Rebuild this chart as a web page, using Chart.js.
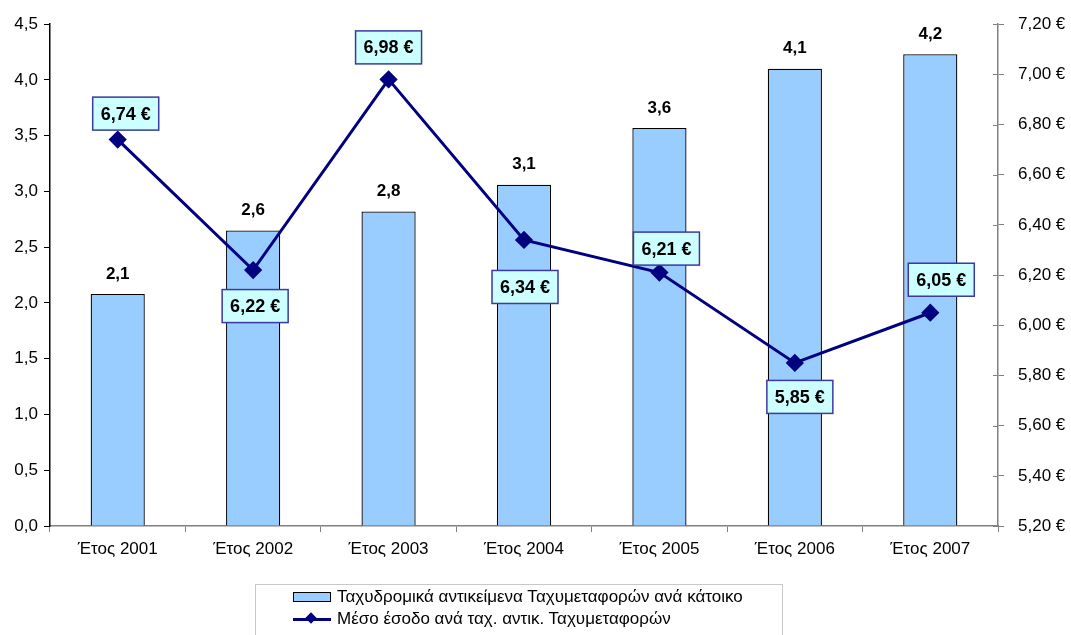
<!DOCTYPE html>
<html>
<head>
<meta charset="utf-8">
<script src="https://cdn.jsdelivr.net/npm/chart.js@4/dist/chart.umd.min.js"></script>
<style>
    html, body { margin: 0; padding: 0; background: #fff; }
    #wrap { position: relative; width: 1071px; height: 635px; overflow: hidden; }
    #legend {
        position: absolute; left: 255px; top: 584px; width: 528px; height: 70px;
        border: 1px solid #c8c8c8; box-sizing: border-box;
        font-family: 'Liberation Sans', Arial, sans-serif; font-size: 17px; color: #000;
    }
    .leg-row { position: absolute; left: 37px; height: 20px; display: flex; align-items: center; white-space: nowrap; }
    .sw-bar { width: 36px; height: 8px; background: #99ccff; border: 1px solid #000; margin-right: 6px; }
    .sw-line { position: relative; width: 38px; height: 3px; background: #000080; margin-right: 6px; }
    .sw-line::after {
        content: ''; position: absolute; left: 14px; top: -4px; width: 8px; height: 8px;
        background: #000080; transform: rotate(45deg);
    }
</style>
</head>
<body>
<div id="wrap">
    <canvas id="chart" width="1071" height="635"></canvas>
    <div id="legend">
        <div class="leg-row" style="top:2px;"><span class="sw-bar"></span>Ταχυδρομικά αντικείμενα Ταχυμεταφορών ανά κάτοικο</div>
        <div class="leg-row" style="top:24px;"><span class="sw-line"></span>Μέσο έσοδο ανά ταχ. αντικ. Ταχυμεταφορών</div>
    </div>
</div>
<script>
    // ── Data ──────────────────────────────────────
    const years = ['Έτος 2001', 'Έτος 2002', 'Έτος 2003', 'Έτος 2004', 'Έτος 2005', 'Έτος 2006', 'Έτος 2007'];
    const itemsPerResident = [2.08, 2.65, 2.82, 3.06, 3.57, 4.10, 4.23];
    const itemsLabels = ['2,1', '2,6', '2,8', '3,1', '3,6', '4,1', '4,2'];
    const avgRevenue = [6.74, 6.22, 6.98, 6.34, 6.21, 5.85, 6.05];

    // label box placement relative to each point (px)
    const labelDx = [8, 2, 0, 1, 7, 5, 11];
    const labelDy = [-26, 36, -32, 47, -24, 34, -33];

    const FONT = "'Liberation Sans', Arial, sans-serif";
    Chart.defaults.font.family = FONT;
    Chart.defaults.color = '#000';

    const fmtLeft = v => Number(v).toFixed(1).replace('.', ',');
    const fmtRight = v => Number(v).toFixed(2).replace('.', ',') + ' €';

    // ── Value labels plugin ───────────────────────
    const valueLabels = {
        id: 'valueLabels',
        afterDatasetsDraw(chart) {
            const ctx = chart.ctx;
            ctx.save();
            ctx.textAlign = 'center';
            ctx.textBaseline = 'middle';

            // bar labels
            ctx.font = 'bold 17px ' + FONT;
            ctx.fillStyle = '#000';
            chart.getDatasetMeta(1).data.forEach((bar, i) => {
                ctx.fillText(itemsLabels[i], bar.x, bar.y - 20);
            });

            // line labels in boxes
            chart.getDatasetMeta(0).data.forEach((pt, i) => {
                const cx = pt.x + labelDx[i];
                const cy = pt.y + labelDy[i];
                const w = 66, h = 33;
                ctx.fillStyle = '#ccffff';
                ctx.fillRect(cx - w / 2, cy - h / 2, w, h);
                ctx.strokeStyle = '#3a3aa0';
                ctx.lineWidth = 1.5;
                ctx.strokeRect(cx - w / 2, cy - h / 2, w, h);
                ctx.fillStyle = '#000';
                ctx.font = 'bold 18px ' + FONT;
                ctx.fillText(fmtRight(avgRevenue[i]), cx, cy + 1);
            });

            // right axis ticks cross the axis line
            const y1 = chart.scales.y1;
            ctx.strokeStyle = '#808080';
            ctx.lineWidth = 1;
            y1.ticks.forEach(t => {
                const y = Math.round(y1.getPixelForValue(t.value)) + 0.5;
                ctx.beginPath();
                ctx.moveTo(y1.left - 5, y);
                ctx.lineTo(y1.left, y);
                ctx.stroke();
            });
            ctx.restore();
        }
    };

    new Chart(document.getElementById('chart'), {
        data: {
            labels: years,
            datasets: [
                {
                    type: 'line',
                    label: 'Μέσο έσοδο ανά ταχ. αντικ. Ταχυμεταφορών',
                    data: avgRevenue,
                    yAxisID: 'y1',
                    borderColor: '#000080',
                    borderWidth: 3,
                    pointStyle: 'rectRot',
                    pointRadius: 7,
                    pointBackgroundColor: '#000080',
                    pointBorderColor: '#000080',
                    tension: 0,
                    order: 0,
                },
                {
                    type: 'bar',
                    label: 'Ταχυδρομικά αντικείμενα Ταχυμεταφορών ανά κάτοικο',
                    data: itemsPerResident,
                    yAxisID: 'y',
                    backgroundColor: '#99ccff',
                    borderColor: '#000',
                    borderWidth: 1.3,
                    barPercentage: 0.4,
                    categoryPercentage: 1.0,
                    order: 1,
                }
            ]
        },
        options: {
            responsive: false,
            animation: false,
            layout: { padding: { top: 22, left: 0, right: 0, bottom: 0 } },
            plugins: {
                legend: { display: false },
                tooltip: { enabled: false },
            },
            scales: {
                x: {
                    grid: { offset: true, drawOnChartArea: false, tickLength: 6, color: '#808080' },
                    border: { color: '#808080', width: 1.5 },
                    ticks: { font: { size: 17 }, padding: 7, maxRotation: 0 },
                    afterFit: s => { s.height = 109; },
                },
                y: {
                    position: 'left',
                    min: 0, max: 4.5,
                    grid: { drawOnChartArea: false, tickLength: 6, color: '#000' },
                    border: { color: '#000', width: 1.5 },
                    ticks: { stepSize: 0.5, font: { size: 17 }, padding: 6, callback: fmtLeft },
                    afterFit: s => { s.width = 50; },
                },
                y1: {
                    position: 'right',
                    min: 5.2, max: 7.2,
                    grid: { drawOnChartArea: false, tickLength: 6, color: '#808080' },
                    border: { color: '#808080', width: 1.5 },
                    ticks: { stepSize: 0.2, font: { size: 17 }, padding: 14, callback: fmtRight },
                    afterFit: s => { s.width = 73; },
                }
            }
        },
        plugins: [valueLabels]
    });
</script>
</body>
</html>
